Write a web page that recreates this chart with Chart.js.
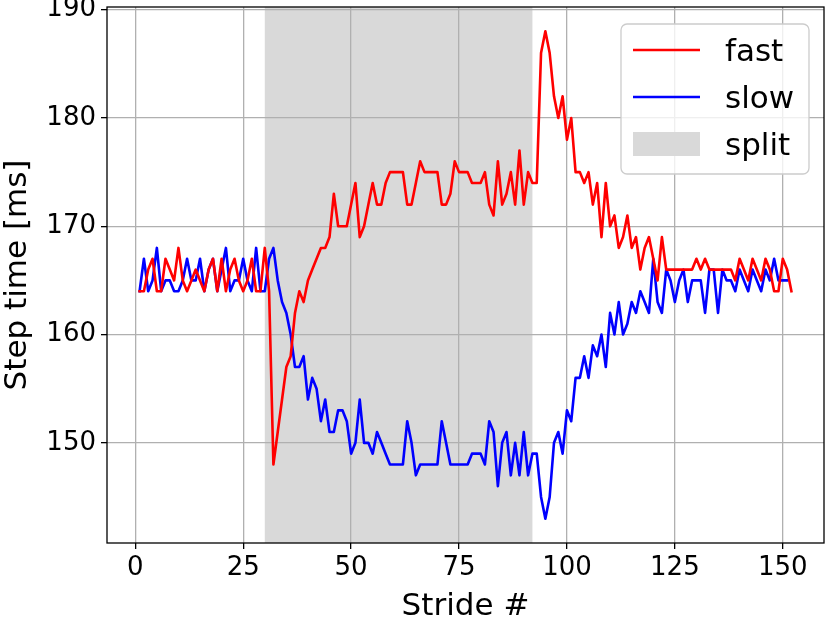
<!DOCTYPE html>
<html><head><meta charset="utf-8">
<script src="https://cdn.jsdelivr.net/npm/chart.js@4.4.0/dist/chart.umd.min.js"></script>
<style>html,body{margin:0;padding:0;background:#fff;}#wrap{width:830px;height:625px;}</style>
</head><body><div id="wrap"><canvas id="c" width="830" height="625"></canvas></div>
<script>
// stride numbers (category axis)
const fastStrides = Array.from({length:152}, (_, i) => i + 1);
const slowStrides = Array.from({length:151}, (_, i) => i + 1);
const fastValues = [164,164,166,167,164,164,167,166,165,168,165,164,165,166,165,164,166,167,164,167,
164,166,167,165,164,165,167,164,164,168,164,148,151,154,157,158,162,164,163,165,
166,167,168,168,169,173,170,170,170,172,174,169,170,172,174,172,172,174,175,175,
175,175,172,172,174,176,175,175,175,175,172,172,173,176,175,175,175,174,174,174,
175,172,171,176,172,173,175,172,177,172,175,174,174,186,188,186,182,180,182,178,
180,175,175,174,175,172,174,169,174,170,171,168,169,171,168,169,166,168,169,167,
165,169,166,166,166,166,166,166,166,167,166,167,166,166,166,166,166,166,165,167,
166,165,167,166,165,167,166,164,164,167,166,164];
const slowValues = [164,167,164,165,168,164,165,165,164,164,165,167,165,165,167,164,166,167,164,166,
168,164,165,165,167,165,164,168,164,164,167,168,165,163,162,160,157,157,158,154,
156,155,152,154,151,151,153,153,152,149,150,154,150,150,149,151,150,149,148,148,
148,148,152,150,147,148,148,148,148,148,152,150,148,148,148,148,148,149,149,149,
148,152,151,146,150,151,147,150,147,151,147,149,149,145,143,145,150,151,149,153,
152,156,156,158,156,159,158,160,157,162,160,163,160,161,163,162,164,163,162,167,
163,162,166,165,163,165,166,163,165,165,165,162,166,166,162,166,165,165,164,166,
165,164,166,165,164,166,165,167,165,165,165];
const splitSpan = [30, 92];
const xTickValues = [0, 25, 50, 75, 100, 125, 150];
const yTickValues = [150, 160, 170, 180, 190];
const seriesLabels = ['fast', 'slow', 'split'];

const FONT = 'DejaVu Sans';

const decor = {
  id: 'decor',
  beforeDraw(chart) {
    const {ctx, chartArea: a, scales: {x}} = chart;
    const x0 = x.getPixelForValue(splitSpan[0]);
    const x1 = x.getPixelForValue(splitSpan[1]);
    ctx.save();
    ctx.fillStyle = '#d9d9d9';
    ctx.fillRect(x0, a.top, x1 - x0, a.bottom - a.top);
    ctx.restore();
  },
  afterDatasetsDraw(chart) {
    const {ctx, chartArea: a} = chart;
    ctx.save();
    ctx.strokeStyle = '#000';
    ctx.lineWidth = 1.3;
    ctx.strokeRect(a.left, a.top, a.right - a.left, a.bottom - a.top);
    // legend
    const bx = a.right - 203, by = a.top + 17, bw = 188, bh = 150, r = 6;
    ctx.beginPath();
    ctx.moveTo(bx + r, by);
    ctx.arcTo(bx + bw, by, bx + bw, by + bh, r);
    ctx.arcTo(bx + bw, by + bh, bx, by + bh, r);
    ctx.arcTo(bx, by + bh, bx, by, r);
    ctx.arcTo(bx, by, bx + bw, by, r);
    ctx.closePath();
    ctx.fillStyle = 'rgba(255,255,255,0.8)';
    ctx.fill();
    ctx.strokeStyle = '#cccccc';
    ctx.lineWidth = 1.3;
    ctx.stroke();
    const rows = [by + 26, by + 73, by + 120];
    const ds = chart.data.datasets;
    ctx.lineWidth = 2.6;
    for (let i = 0; i < 2; i++) {
      ctx.strokeStyle = ds[i].borderColor;
      ctx.beginPath();
      ctx.moveTo(bx + 12, rows[i]);
      ctx.lineTo(bx + 79, rows[i]);
      ctx.stroke();
    }
    ctx.fillStyle = '#d9d9d9';
    ctx.fillRect(bx + 12, rows[2] - 12, 67, 24);
    ctx.fillStyle = '#000';
    ctx.font = '31px "' + FONT + '"';
    ctx.textBaseline = 'alphabetic';
    ctx.textAlign = 'left';
    for (let i = 0; i < 3; i++) {
      ctx.fillText(seriesLabels[i], bx + 104, rows[i] + 11);
    }
    ctx.restore();
  }
};

new Chart(document.getElementById('c'), {
  type: 'line',
  data: {
    datasets: [
      {label: seriesLabels[0], data: fastStrides.map((s, i) => ({x: s, y: fastValues[i]})),
       borderColor: '#ff0000', borderWidth: 2.6, borderJoinStyle: 'round', borderCapStyle: 'square',
       pointRadius: 0, tension: 0, fill: false},
      {label: seriesLabels[1], data: slowStrides.map((s, i) => ({x: s, y: slowValues[i]})),
       borderColor: '#0000ff', borderWidth: 2.6, borderJoinStyle: 'round', borderCapStyle: 'square',
       pointRadius: 0, tension: 0, fill: false}
    ]
  },
  options: {
    responsive: false, animation: false, devicePixelRatio: 1,
    layout: {padding: {top: 7, right: 6, left: 0, bottom: 0}},
    plugins: {legend: {display: false}, tooltip: {enabled: false}},
    scales: {
      x: {
        type: 'linear', min: -6.55, max: 159.55,
        afterBuildTicks: s => { s.ticks = xTickValues.map(v => ({value: v})); },
        afterFit: s => { s.height = 82; s.paddingLeft = 0; s.paddingRight = 0; },
        grid: {color: '#b0b0b0', lineWidth: 1.3, tickColor: '#000', tickWidth: 1.3, tickLength: 6},
        border: {display: false},
        ticks: {font: {family: FONT, size: 26}, color: '#000', padding: 4, maxRotation: 0, autoSkip: false},
        title: {display: true, text: 'Stride #', color: '#000', font: {family: FONT, size: 31, lineHeight: 1}, padding: {top: 0, bottom: 3}}
      },
      y: {
        type: 'linear', min: 140.75, max: 190.25,
        afterBuildTicks: s => { s.ticks = yTickValues.map(v => ({value: v})); },
        afterFit: s => { s.width = 107; s.paddingTop = 0; s.paddingBottom = 0; },
        grid: {color: '#b0b0b0', lineWidth: 1.3, tickColor: '#000', tickWidth: 1.3, tickLength: 6},
        border: {display: false},
        ticks: {font: {family: FONT, size: 26}, color: '#000', padding: 5, autoSkip: false},
        title: {display: true, text: 'Step time [ms]', color: '#000', font: {family: FONT, size: 31, lineHeight: 1}, padding: {top: 2, bottom: 0}}
      }
    }
  },
  plugins: [decor]
});
</script>
</body></html>
